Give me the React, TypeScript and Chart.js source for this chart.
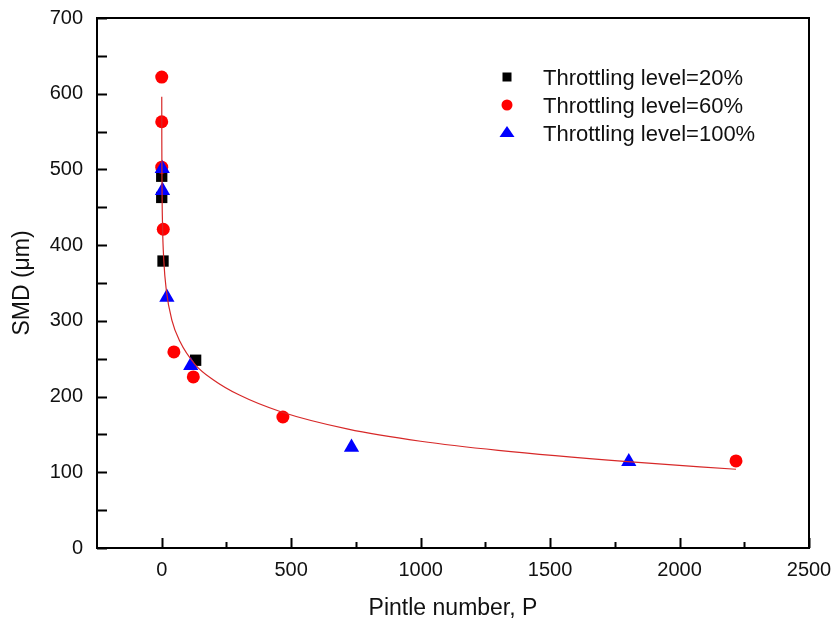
import React, { useEffect, useRef } from 'react';
import { Chart, registerables } from 'chart.js';

Chart.register(...registerables);

const throttle20X = [0, 0, 5, 131];
const throttle20Y = [491, 463, 379, 248];
const throttle60X = [0, 0, 0, 6, 47, 122, 468, 2218];
const throttle60Y = [622, 563, 503, 421, 259, 226, 173, 115];
const throttle100X = [2, 3, 20, 112, 733, 1804];
const throttle100Y = [501, 472, 331, 241, 133, 114];

// Fitted curve, points
const fitX = [0.1, 0.3, 1, 3, 8, 18, 40, 70, 130, 200, 300, 460, 720, 1000, 1300, 1800, 2218];
const fitY = [596, 540, 482, 428, 380, 340, 300, 273, 242, 222, 202, 180, 157, 141, 129, 114, 104];

const xTickValues = [0, 500, 1000, 1500, 2000, 2500];
const xMinorValues = [250, 750, 1250, 1750, 2250];
const yTickValues = [0, 100, 200, 300, 400, 500, 600, 700];
const yMinorValues = [50, 150, 250, 350, 450, 550, 650];
const seriesLabels = ['Throttling level=20%', 'Throttling level=60%', 'Throttling level=100%'];
const xTitle = 'Pintle number, P';
const yTitle = 'SMD (\u03bcm)';

const FONT = '"Liberation Sans", Arial, sans-serif';

const toPoints = (xs: number[], ys: number[]) => xs.map((x, i) => ({ x, y: ys[i] }));

const framePlugin = {
  id: 'framePlugin',
  afterDraw(chart: any) {
    const { ctx, chartArea } = chart;
    const xs = chart.scales.x;
    const ys = chart.scales.y;
    ctx.save();
    ctx.strokeStyle = '#000';
    ctx.lineWidth = 2;
    ctx.strokeRect(chartArea.left, chartArea.top, chartArea.right - chartArea.left, chartArea.bottom - chartArea.top);
    ctx.beginPath();
    xTickValues.forEach((v) => {
      const px = Math.round(xs.getPixelForValue(v)) + 0.5;
      ctx.moveTo(px, chartArea.bottom);
      ctx.lineTo(px, chartArea.bottom - 10);
    });
    xMinorValues.forEach((v) => {
      const px = Math.round(xs.getPixelForValue(v)) + 0.5;
      ctx.moveTo(px, chartArea.bottom);
      ctx.lineTo(px, chartArea.bottom - 6);
    });
    [...yTickValues, ...yMinorValues].forEach((v) => {
      const py = Math.round(ys.getPixelForValue(v)) + 0.5;
      ctx.moveTo(chartArea.left, py);
      ctx.lineTo(chartArea.left + 10, py);
    });
    ctx.stroke();

    // legend
    const mx = 507;
    const rows = [85, 113, 141];
    ctx.font = `22px ${FONT}`;
    ctx.fillStyle = '#111';
    ctx.textBaseline = 'alphabetic';
    ctx.textAlign = 'left';
    seriesLabels.forEach((t, i) => ctx.fillText(t, 543, rows[i]));
    ctx.fillStyle = '#000';
    ctx.fillRect(mx - 4.5, 77 - 4.5, 9, 9);
    ctx.fillStyle = '#ff0000';
    ctx.beginPath();
    ctx.arc(mx, 105, 5.5, 0, Math.PI * 2);
    ctx.fill();
    ctx.fillStyle = '#0000ff';
    ctx.beginPath();
    ctx.moveTo(mx, 126);
    ctx.lineTo(mx + 7.5, 137);
    ctx.lineTo(mx - 7.5, 137);
    ctx.closePath();
    ctx.fill();
    ctx.restore();
  },
};

export default function App() {
  const ref = useRef<HTMLCanvasElement | null>(null);
  useEffect(() => {
    document.body.style.margin = '0';
    const canvas = ref.current;
    if (!canvas) return;
    const chart = new Chart(canvas, {
      type: 'scatter',
      data: {
        datasets: [
          {
            label: 'fit',
            data: toPoints(fitX, fitY),
            showLine: true,
            borderColor: 'rgb(215,40,40)',
            borderWidth: 1.2,
            pointRadius: 0,
            cubicInterpolationMode: 'monotone',
            order: 0,
          },
          {
            label: seriesLabels[0],
            data: toPoints(throttle20X, throttle20Y),
            pointStyle: 'rect',
            pointRadius: 8,
            backgroundColor: '#000',
            borderWidth: 0,
            order: 3,
          },
          {
            label: seriesLabels[1],
            data: toPoints(throttle60X, throttle60Y),
            pointStyle: 'circle',
            pointRadius: 6.5,
            backgroundColor: '#ff0000',
            borderWidth: 0,
            order: 2,
          },
          {
            label: seriesLabels[2],
            data: toPoints(throttle100X, throttle100Y),
            pointStyle: 'triangle',
            pointRadius: 8.8,
            backgroundColor: '#0000ff',
            borderWidth: 0,
            order: 1,
          },
        ],
      },
      options: {
        animation: false,
        responsive: false,
        layout: { padding: { top: 18, right: 26, left: 0, bottom: 0 } },
        plugins: { legend: { display: false }, tooltip: { enabled: false } },
        scales: {
          x: {
            type: 'linear',
            min: -250,
            max: 2500,
            afterBuildTicks: (s: any) => {
              s.ticks = xTickValues.map((v) => ({ value: v }));
            },
            afterFit: (s: any) => {
              s.height = 74;
              s.paddingLeft = 0;
              s.paddingRight = 0;
            },
            grid: { display: false, drawTicks: false },
            border: { display: false },
            ticks: {
              color: '#111',
              font: { size: 20, family: FONT },
              padding: 10,
              maxRotation: 0,
              callback: (v: any) => String(v),
            },
            title: {
              display: true,
              text: xTitle,
              color: '#111',
              font: { size: 23, family: FONT },
              padding: { top: 0, bottom: 0 },
            },
          },
          y: {
            type: 'linear',
            min: 0,
            max: 700,
            afterBuildTicks: (s: any) => {
              s.ticks = yTickValues.map((v) => ({ value: v }));
            },
            afterFit: (s: any) => {
              s.width = 97;
              s.paddingTop = 0;
              s.paddingBottom = 0;
            },
            grid: { display: false, drawTicks: false },
            border: { display: false },
            ticks: { color: '#111', font: { size: 20, family: FONT }, padding: 14, callback: (v: any) => String(v) },
            title: {
              display: true,
              text: yTitle,
              color: '#111',
              font: { size: 23, family: FONT },
              padding: { top: 9, bottom: 0 },
            },
          },
        },
      },
      plugins: [framePlugin],
    });
    return () => chart.destroy();
  }, []);
  return (
    <div style={{ width: 835, height: 622, background: '#fff' }}>
      <canvas ref={ref} width={835} height={622} style={{ display: 'block' }} />
    </div>
  );
}
